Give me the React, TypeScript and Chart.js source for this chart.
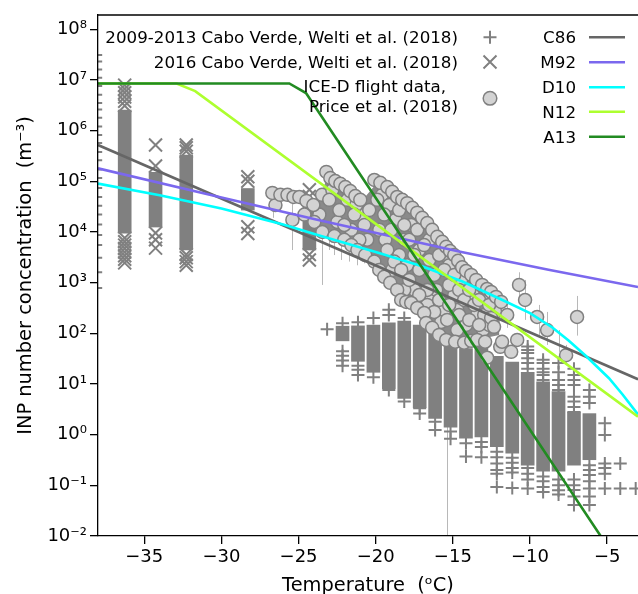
import React, { useEffect, useRef } from 'react';
import { Chart, registerables } from 'chart.js';

Chart.register(...registerables);

const FONT = 'DejaVu Sans';

// ---------- axes ----------
const xTickValues = [-35, -30, -25, -20, -15, -10, -5];
const xTickLabels = ['−35', '−30', '−25', '−20', '−15', '−10', '−5'];
const yTickValues = [1e-2, 1e-1, 1, 1e1, 1e2, 1e3, 1e4, 1e5, 1e6, 1e7, 1e8];
const yTickLabels = ['10⁻²', '10⁻¹', '10⁰', '10¹', '10²', '10³', '10⁴', '10⁵', '10⁶', '10⁷', '10⁸'];
const xTitle = 'Temperature  (ᵒC)';
const yTitle = 'INP number concentration  (m⁻³)';

// ---------- parameterisations ----------
const lineLabels = ['C86', 'M92', 'D10', 'N12', 'A13'];
const c86T = [-38, -3];
const c86N = [5.2e5, 12.4];
const m92T = [-38, -30, -23.65, -14.6, -8.8, -3];
const m92N = [1.8e5, 4.8e4, 1.7e4, 4.1e3, 1.8e3, 820];
const d10T = [-38, -34, -30, -26, -23.65, -20, -17, -14.38, -11.79, -10, -8.55, -7.5, -6.39, -4.88, -4, -3];
const d10N = [9.0e4, 5.3e4, 2.9e4, 1.4e4, 8.5e3, 4.0e3, 2.1e3, 1.05e3, 455, 250, 130, 72, 36, 13, 6.2, 2.5];
const n12T = [-38, -32.9, -31.7, -3];
const n12N = [8.5e6, 8.5e6, 6.0e6, 2.26];
const a13T = [-38, -25.6, -24.52, -3];
const a13N = [8.5e6, 8.5e6, 5.5e6, 7.8e-4];

// ---------- 2009-2013 Cabo Verde (+) ----------
const scatterLabels = ['2009-2013 Cabo Verde, Welti et al. (2018)', '2016 Cabo Verde, Welti et al. (2018)', 'ICE-D flight data,', ' Price et al. (2018)'];
const boxT = [-22.15, -21.15, -20.15, -19.15, -18.15, -17.15, -16.15, -15.15, -14.15, -13.15, -12.15, -11.15, -10.15, -9.15, -8.15, -7.15, -6.15];
const boxLow = [71, 28, 17, 8.1, 5.2, 3.4, 2.1, 1.4, 0.85, 0.9, 0.58, 0.43, 0.25, 0.19, 0.19, 0.25, 0.32];
const boxHigh = [138, 140, 145, 160, 175, 145, 130, 80, 50, 55, 35, 27, 17, 11, 7.1, 2.8, 2.6];
const plusColT = [-23.15, -22.15, -21.15, -20.15, -19.15, -18.15, -17.15, -16.15, -15.15, -14.15, -13.15, -12.15, -11.15, -10.15, -9.15, -8.15, -7.15, -6.15, -5.15, -4.15, -3.15, -38.15];
const plusColN = [
  [120],
  [158, 44, 36, 29, 23],
  [165, 23, 19, 15],
  [200, 13.5],
  [290, 230, 7.6],
  [200, 4.5],
  [3.3, 2.6],
  [1.8, 1.23],
  [1.15, 0.83],
  [0.68, 0.37],
  [0.72, 0.57, 0.36],
  [0.46, 0.36, 0.27, 0.2, 0.17, 0.093],
  [0.35, 0.28, 0.22, 0.18, 0.089],
  [55, 47, 41, 32, 26, 20, 0.22, 0.17, 0.13, 0.087],
  [30, 26, 20, 17, 15, 12, 0.15, 0.12, 0.093, 0.074],
  [26, 17, 12, 9.5, 7.6, 0.13, 0.1, 0.08, 0.066],
  [20, 15, 12, 9.5, 5.6, 4.5, 3.5, 2.8, 0.13, 0.1, 0.081, 0.06, 0.041],
  [7.6, 5.6, 4.2, 0.25, 0.2, 0.16, 0.12, 0.087, 0.06, 0.041],
  [1.67, 0.98, 0.27, 0.22, 0.17, 0.087],
  [0.27, 0.087],
  [0.087],
  [3.1e7, 2.3e7, 1.6e7, 1.1e7, 7.6e6, 5.1e6, 3.5e6, 2.6e6, 1.8e6, 1.2e6, 8.2e5, 5.7e5, 3.8e5, 2.6e5, 1.7e5, 1.16e5, 7.4e4, 4.9e4, 3.3e4, 2.2e4, 1.4e4, 8.7e3, 5.5e3, 3.1e3, 1.6e3, 780],
];

// ---------- 2016 Cabo Verde (x) ----------
const crossColT = [-36.27, -34.27, -32.28, -28.29, -24.3];
const crossCoreLow = [9.5e3, 1.25e4, 4.4e3, 2.7e4, 4.4e3];
const crossCoreHigh = [2.55e6, 1.5e5, 3.3e5, 7.2e4, 3.4e4];
const crossColN = [
  [7.9e6, 6.6e6, 5.6e6, 4.6e6, 3.8e6, 3.1e6, 7.6e3, 6.4e3, 5.5e3, 4.7e3, 4.0e3, 3.4e3, 2.9e3, 2.45e3],
  [5.2e5, 2.0e5, 9.5e3, 7.0e3, 4.8e3],
  [5.2e5, 4.6e5, 3.9e5, 3.6e3, 3.1e3, 2.6e3, 2.2e3],
  [1.23e5, 1.0e5, 1.27e4, 9.3e3],
  [6.8e4, 5.0e4, 3.6e3, 2.8e3],
];

// ---------- ICE-D flight data (circles) ----------
const iceT = [
  // deep interior
  -23.48, -22.81, -22.49, -21.84, -21.58, -20.93, -20.55, -21.26, -19.58, -19.77, -19.12, -19.38, -18.73, -18.93, -18.15, -18.48, -17.96, -17.70, -17.50, -17.18, -18.15,
  -16.53, -16.40, -16.08, -15.76, -15.56, -15.24, -14.91, -14.72, -14.46, -14.14, -15.56, -16.66, -13.69, -13.43, -13.04, -12.65, -12.26, -12.84,
  // interior
  -23.65, -23.01, -22.36, -22.04, -21.39, -20.74, -21.06, -20.42, -19.90, -19.45, -18.99, -19.25, -18.80, -18.48, -18.15, -17.83, -17.50, -18.35, -17.83, -17.18, -17.31, -16.86, -16.53, -16.21, -16.66, -17.18, -15.89, -15.56, -15.24, -15.89, -16.21, -14.91, -14.59, -15.24, -15.37, -14.59, -14.27, -13.94, -13.62, -13.94, -13.30, -12.97, -12.65, -14.72, -13.30, -12.52,
  // outliers
  -11.48, -10.71, -10.32, -9.54, -8.89, -7.66, -6.95,
  // lower edge
  -26.50, -25.40, -24.62, -23.98, -23.46, -22.68, -22.04, -21.58, -21.19, -20.68, -20.09, -19.77, -19.45, -19.06, -18.61, -18.35, -18.02, -17.70, -17.31, -16.86, -16.73, -16.34, -15.89, -15.43, -14.85, -14.27, -13.81, -13.43, -12.91, -12.78, -12.33, -11.93, -11.81, -11.22, -10.83,
  // upper edge
  -26.70, -26.18, -25.72, -25.33, -24.95, -24.49, -24.04, -23.20, -22.94, -22.62, -22.29, -21.97, -21.65, -21.32, -21.00, -20.09, -19.70, -19.25, -18.93, -18.61, -18.28, -17.96, -17.63, -17.31, -16.99, -16.66, -16.34, -16.01, -15.69, -15.43, -15.18, -14.91, -14.66, -14.40, -14.14, -13.81, -13.49, -13.10, -12.78, -12.52, -12.20, -11.87,
];
const iceN = [
  5.4e4, 6.7e4, 1.57e4, 4.3e4, 1.1e4, 2.2e4, 7.0e3, 3.4e4, 5.4e4, 1.1e4, 3.4e4, 7.0e3, 1.73e4, 1.78e3, 7.0e3, 3.5e3, 2.2e3, 1.37e4, 718, 4.4e3, 718,
  7.0e3, 455, 718, 167, 3.5e3, 2.2e3, 571, 289, 1.13e3, 146, 289, 363, 571, 230, 116, 146, 264, 455,
  2.2e4, 4.3e4, 2.7e4, 1.37e4, 2.2e4, 1.37e4, 7.0e3, 2.7e4, 4.3e4, 2.2e4, 1.1e4, 4.4e3, 2.6e3, 2.7e4, 1.37e4, 7.0e3, 3.5e3, 1.78e3, 1.13e3, 1.78e3, 1.1e4, 5.5e3, 2.8e3, 1.42e3, 718, 571, 3.5e3, 1.78e3, 900, 455, 264, 1.42e3, 718, 363, 184, 230, 455, 718, 363, 184, 455, 230, 363, 116, 146, 201,
  230, 900, 455, 210, 116, 37, 210,
  3.4e4, 1.73e4, 2.2e4, 1.57e4, 1.0e4, 8.3e3, 7.0e3, 5.5e3, 4.4e3, 3.5e3, 2.6e3, 1.78e3, 1.3e3, 990, 718, 455, 416, 397, 316, 252, 160, 128, 93, 74, 68, 65, 71, 74, 68, 33, 134, 54, 68, 43, 74,
  5.9e4, 5.4e4, 5.4e4, 4.9e4, 4.9e4, 4.1e4, 3.4e4, 1.53e5, 1.16e5, 1.01e5, 8.9e4, 7.7e4, 6.4e4, 5.1e4, 4.3e4, 1.06e5, 9.3e4, 7.7e4, 6.2e4, 4.9e4, 4.3e4, 3.7e4, 3.0e4, 2.4e4, 1.9e4, 1.5e4, 1.1e4, 8.0e3, 6.4e3, 5.1e3, 4.2e3, 3.5e3, 2.7e3, 2.0e3, 1.7e3, 1.42e3, 1.13e3, 900, 750, 655, 522, 416,
];
// dense core of overlapping ICE-D points (outline, upper edge then lower edge)
const iceCoreT = [-23.98, -23.20, -22.04, -21.06, -20.09, -18.61, -17.31, -16.01, -14.91, -13.81, -12.52, -12.00, -12.00, -12.91, -14.27, -15.43, -16.73, -17.70, -18.61, -19.45, -20.09, -21.19, -22.04, -23.46, -23.98];
const iceCoreN = [2.7e4, 1.06e5, 6.7e4, 3.6e4, 8.1e4, 3.9e4, 1.9e4, 6.6e3, 2.9e3, 1.18e3, 546, 363, 93, 81, 77, 89, 201, 477, 860, 1.55e3, 3.1e3, 5.3e3, 8.3e3, 1.2e4, 1.57e4];
// error bars
const errT = [-26.63, -25.40, -23.46, -22.23, -21.71, -21.19, -20.74, -15.37, -6.95, -10.32, -10.71, -9.41, -8.89, -8.12, -11.48, -12.00, -7.66, -12.78, -23.01, -22.68];
const errLow = [1.9e4, 4.4e3, 900, 2.8e3, 2.6e3, 2.2e3, 2.4e3, 5e-3, 90, 184, 455, 93, 59, 43, 128, 116, 24, 22, 4.4e3, 3.5e3];
const errHigh = [6.7e4, 4.3e4, 2.2e4, 1.1e4, 8.7e3, 7.0e3, 5.5e3, 455, 546, 1.13e3, 1.6e3, 363, 264, 116, 363, 363, 59, 59, 1.37e4, 1.1e4];

// ---------- styles ----------
const lineColors = ['#666666', '#7b68ee', '#00ffff', '#adff2f', '#228b22'];
const GRAY = '#808080';
const CIRCLE_FILL = '#d3d3d3';

const toPts = (ts: number[], ns: number[]) => ts.map((t, i) => ({ x: t, y: ns[i] }));
const colPts = (ts: number[], cols: number[][]) => ts.flatMap((t, i) => cols[i].map((n) => ({ x: t, y: n })));

const layerPlugin = {
  id: 'layers',
  beforeDatasetsDraw(chart: any) {
    const { ctx, chartArea: a, scales } = chart;
    const x = scales.x, y = scales.y;
    ctx.save();
    ctx.beginPath();
    ctx.rect(a.left, a.top, a.right - a.left, a.bottom - a.top);
    ctx.clip();
    ctx.strokeStyle = '#b8b8b8';
    ctx.lineWidth = 1;
    errT.forEach((t, i) => {
      const px = Math.round(x.getPixelForValue(t)) + 0.5;
      ctx.beginPath();
      ctx.moveTo(px, y.getPixelForValue(errLow[i]));
      ctx.lineTo(px, y.getPixelForValue(errHigh[i]));
      ctx.stroke();
    });
    ctx.restore();
  },
  beforeDatasetDraw(chart: any, args: any) {
    const ds = chart.data.datasets[args.index];
    if (ds.label !== 'ICE-D') return;
    const { ctx, chartArea: a, scales } = chart;
    const x = scales.x, y = scales.y;
    ctx.save();
    ctx.beginPath();
    ctx.rect(a.left, a.top, a.right - a.left, a.bottom - a.top);
    ctx.clip();
    ctx.beginPath();
    iceCoreT.forEach((t, i) => {
      const px = x.getPixelForValue(t), py = y.getPixelForValue(iceCoreN[i]);
      if (i === 0) ctx.moveTo(px, py); else ctx.lineTo(px, py);
    });
    ctx.closePath();
    ctx.fillStyle = '#8a8a8a';
    ctx.fill();
    ctx.restore();
  },
  afterDraw(chart: any) {
    const { ctx, chartArea: a } = chart;
    ctx.save();
    // top spine
    ctx.strokeStyle = '#000';
    ctx.lineWidth = 1.3;
    ctx.beginPath();
    ctx.moveTo(a.left, a.top);
    ctx.lineTo(a.right + 2, a.top);
    ctx.stroke();

    // legend 1 (scatter)
    ctx.font = `16.7px "${FONT}"`;
    ctx.fillStyle = '#000';
    ctx.textBaseline = 'alphabetic';
    ctx.textAlign = 'right';
    ctx.fillText(scatterLabels[0], 458, 43.3);
    ctx.fillText(scatterLabels[1], 458, 68.3);
    const w = Math.max(ctx.measureText(scatterLabels[2]).width, ctx.measureText(scatterLabels[3]).width);
    ctx.textAlign = 'left';
    ctx.fillText(scatterLabels[2], 458 - w, 91.7);
    ctx.fillText(scatterLabels[3], 458 - w, 111.7);

    ctx.strokeStyle = GRAY;
    ctx.lineWidth = 2;
    ctx.beginPath();
    ctx.moveTo(483.5, 37.3); ctx.lineTo(496.5, 37.3);
    ctx.moveTo(490, 30.8); ctx.lineTo(490, 43.8);
    ctx.moveTo(483.5, 55.5); ctx.lineTo(496.5, 68.5);
    ctx.moveTo(496.5, 55.5); ctx.lineTo(483.5, 68.5);
    ctx.stroke();
    ctx.beginPath();
    ctx.arc(490, 98.3, 6.8, 0, Math.PI * 2);
    ctx.fillStyle = CIRCLE_FILL;
    ctx.fill();
    ctx.lineWidth = 1.5;
    ctx.stroke();

    // legend 2 (lines)
    const base = [43.3, 68.3, 93.3, 117.7, 142.7];
    ctx.textAlign = 'right';
    ctx.fillStyle = '#000';
    lineLabels.forEach((lab, i) => {
      ctx.fillText(lab, 576, base[i]);
      ctx.strokeStyle = lineColors[i];
      ctx.lineWidth = 2.6;
      ctx.beginPath();
      ctx.moveTo(589, base[i] - 6);
      ctx.lineTo(625, base[i] - 6);
      ctx.stroke();
    });
    ctx.restore();
  },
};

export default function App() {
  const canvasRef = useRef<HTMLCanvasElement | null>(null);

  useEffect(() => {
    const canvas = canvasRef.current;
    if (!canvas) return;

    const lineDs = (label: string, ts: number[], ns: number[], i: number, order: number) => ({
      type: 'line',
      label,
      data: toPts(ts, ns),
      borderColor: lineColors[i],
      backgroundColor: lineColors[i],
      borderWidth: 2.6,
      pointRadius: 0,
      fill: false,
      tension: 0,
      showLine: true,
      order,
    });

    const chart = new Chart(canvas, {
      type: 'scatter',
      data: {
        datasets: [
          {
            type: 'bar',
            label: 'box',
            data: boxT.map((t, i) => ({ x: t, y: [boxLow[i], boxHigh[i]] })),
            backgroundColor: GRAY,
            borderWidth: 0,
            barThickness: 13,
            grouped: false,
            order: 31,
          },
          {
            type: 'scatter',
            label: 'plus',
            data: colPts(plusColT, plusColN),
            pointStyle: 'cross',
            pointRadius: 6.5,
            pointBorderWidth: 2,
            pointBorderColor: GRAY,
            borderColor: GRAY,
            showLine: false,
            order: 30,
          },
          {
            type: 'bar',
            label: 'crosscore',
            data: crossColT.map((t, i) => ({ x: t, y: [crossCoreLow[i], crossCoreHigh[i]] })),
            backgroundColor: GRAY,
            borderWidth: 0,
            barThickness: 13,
            grouped: false,
            order: 21,
          },
          {
            type: 'scatter',
            label: 'cross',
            data: colPts(crossColT, crossColN),
            pointStyle: 'crossRot',
            pointRadius: 9.2,
            pointBorderWidth: 2,
            pointBorderColor: GRAY,
            borderColor: GRAY,
            showLine: false,
            order: 20,
          },
          {
            type: 'scatter',
            label: 'ICE-D',
            data: toPts(iceT, iceN),
            pointStyle: 'circle',
            pointRadius: 6.5,
            pointBorderWidth: 1.5,
            pointBackgroundColor: CIRCLE_FILL,
            pointBorderColor: GRAY,
            showLine: false,
            order: 10,
          },
          lineDs('C86', c86T, c86N, 0, 5),
          lineDs('M92', m92T, m92N, 1, 4),
          lineDs('D10', d10T, d10N, 2, 3),
          lineDs('N12', n12T, n12N, 3, 2),
          lineDs('A13', a13T, a13N, 4, 1),
        ] as any,
      },
      options: {
        animation: false,
        responsive: false,
        devicePixelRatio: 1,
        events: [],
        layout: { autoPadding: false, padding: { top: 15, right: 0, left: 0, bottom: 0 } },
        plugins: { legend: { display: false }, tooltip: { enabled: false } },
        scales: {
          x: {
            type: 'linear',
            min: -38,
            max: -3,
            offset: false,
            afterBuildTicks: (s: any) => {
              s.ticks = xTickValues.map((v) => ({ value: v }));
            },
            afterFit: (s: any) => {
              s.height = 58;
              s.paddingLeft = 0;
              s.paddingRight = 0;
            },
            ticks: {
              autoSkip: false,
              maxRotation: 0,
              minRotation: 0,
              padding: 3,
              color: '#000',
              font: { family: FONT, size: 18 },
              callback: (_v: any, i: number) => xTickLabels[i],
            },
            grid: { display: true, drawOnChartArea: false, drawTicks: true, tickLength: 8, color: '#000', lineWidth: 1.3, offset: false },
            border: { display: true, color: '#000', width: 1.3, z: 1 },
            title: { display: true, text: xTitle, color: '#000', font: { family: FONT, size: 19.4, lineHeight: 0.85 }, padding: { top: 0, bottom: 0 } },
          },
          y: {
            type: 'logarithmic',
            min: 1e-2,
            max: 1.91e8,
            beginAtZero: false,
            afterBuildTicks: (s: any) => {
              s.ticks = yTickValues.map((v) => ({ value: v }));
            },
            afterFit: (s: any) => {
              s.width = 98;
              s.paddingTop = 0;
              s.paddingBottom = 0;
            },
            ticks: {
              autoSkip: false,
              padding: 3,
              color: '#000',
              font: { family: FONT, size: 18 },
              callback: (_v: any, i: number) => yTickLabels[i],
            },
            grid: { display: true, drawOnChartArea: false, drawTicks: true, tickLength: 8, color: '#000', lineWidth: 1.3 },
            border: { display: true, color: '#000', width: 1.3, z: 1 },
            title: { display: true, text: yTitle, color: '#000', font: { family: FONT, size: 19.4, lineHeight: 0.85 }, padding: { top: 17.5, bottom: 0 } },
          },
        },
      } as any,
      plugins: [layerPlugin],
    });

    return () => chart.destroy();
  }, []);

  return (
    <div style={{ position: 'fixed', left: 0, top: 0, width: 638, height: 594, background: '#fff' }}>
      <canvas ref={canvasRef} width={638} height={594} style={{ display: 'block', width: 638, height: 594 }} />
    </div>
  );
}
